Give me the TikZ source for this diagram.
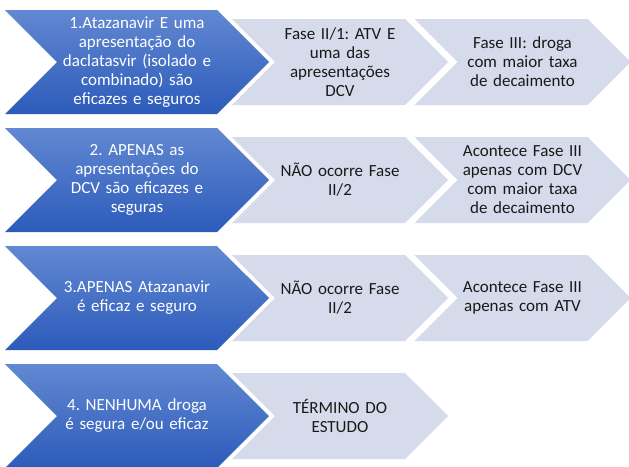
\documentclass[tikz,border=0pt]{standalone}
\usepackage{fontspec}
\setmainfont{Carlito}
\usetikzlibrary{shapes,arrows,positioning}
\frenchspacing

\definecolor{chevtop}{RGB}{98,136,210}
\definecolor{chevbottom}{RGB}{44,91,186}
\definecolor{chevgrey}{RGB}{213,219,235}

\tikzset{
    chev/.style={signal, signal from=west, signal to=east, signal pointer angle=90,
        inner sep=0pt, align=center, font=\fontsize{17}{19}\selectfont},
    bluechev/.style={chev, top color=chevtop, bottom color=chevbottom, text=white,
        text width=160pt, minimum height=104pt},
    greychev/.style={chev, fill=chevgrey, text=black!90, text width=130pt,
        minimum height=86pt}
}

\begin{document}
\begin{tikzpicture}[x=1pt, y=1pt, node distance=118pt]
    \useasboundingbox (0,0) rectangle (629,-466);

    \node [bluechev] (a1) at (137,-62) {1.Atazanavir E uma\\apresentação do\\daclatasvir (isolado e\\combinado) são\\eficazes e seguros};
    \node [bluechev] (a2) [below of=a1] {2. APENAS as\\apresentações do\\DCV são eficazes e\\seguras};
    \node [bluechev] (a3) [below of=a2] {3.APENAS Atazanavir\\é eficaz e seguro};
    \node [bluechev] (a4) [below of=a3] {4. NENHUMA droga\\é segura e/ou eficaz};

    \node [greychev] (b1) [right of=a1, node distance=203pt] {Fase II/1: ATV E\\uma das\\apresentações\\DCV};
    \node [greychev] (b2) [right of=a2, node distance=203pt] {NÃO ocorre Fase\\II/2};
    \node [greychev] (b3) [right of=a3, node distance=203pt] {NÃO ocorre Fase\\II/2};
    \node [greychev] (b4) [right of=a4, node distance=203pt] {TÉRMINO DO\\ESTUDO};

    \node [greychev] (c1) [right of=b1, node distance=182.5pt] {Fase III: droga\\com maior taxa\\de decaimento};
    \node [greychev] (c2) [right of=b2, node distance=182.5pt] {Acontece Fase III\\apenas com DCV\\com maior taxa\\de decaimento};
    \node [greychev] (c3) [right of=b3, node distance=182.5pt] {Acontece Fase III\\apenas com ATV};
\end{tikzpicture}
\end{document}
